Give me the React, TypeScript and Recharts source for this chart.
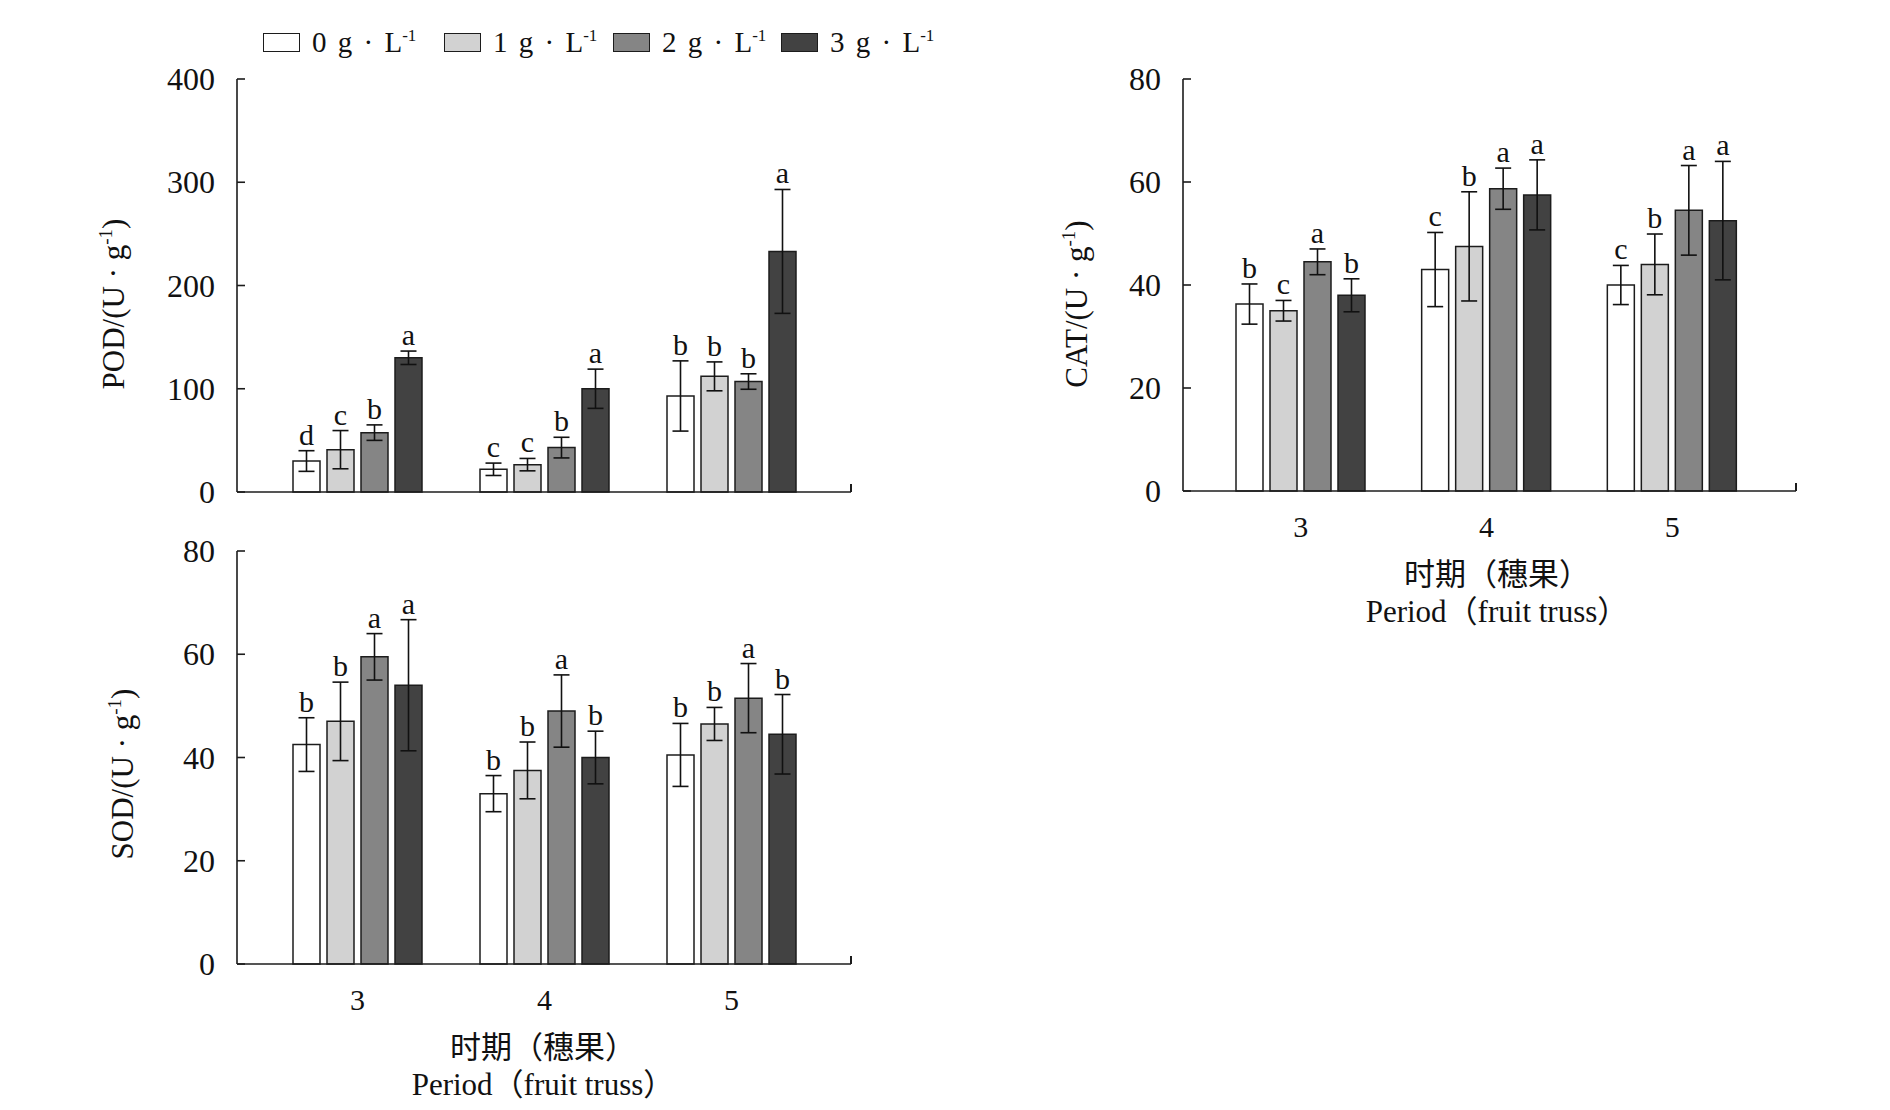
import React from 'react';
import { BarChart, Bar, XAxis, YAxis, ErrorBar, LabelList } from 'recharts';

const SERIF = '"Liberation Serif", "Times New Roman", serif';
const MIXED = '"Liberation Serif", "Noto Sans CJK SC", serif';
const INK = '#1c1c1c';

// fruit truss periods
const periods = ['3', '4', '5'];

// treatment levels (g·L-1) and their fills
const levels = ['0', '1', '2', '3'];
const fills = ['#ffffff', '#d2d2d2', '#858585', '#424242'];

// POD, U·g-1
const pod0 = [30, 22, 93];
const pod1 = [41, 26.5, 112];
const pod2 = [57.5, 43, 107];
const pod3 = [130, 100, 233];
const podErr0 = [10, 6, 34];
const podErr1 = [18.5, 6, 14];
const podErr2 = [7.5, 10, 7.5];
const podErr3 = [6.5, 19, 60];
const podSig0 = ['d', 'c', 'b'];
const podSig1 = ['c', 'c', 'b'];
const podSig2 = ['b', 'b', 'b'];
const podSig3 = ['a', 'a', 'a'];
const podTicks = [0, 100, 200, 300, 400];

// SOD, U·g-1
const sod0 = [42.5, 33, 40.5];
const sod1 = [47, 37.5, 46.5];
const sod2 = [59.5, 49, 51.5];
const sod3 = [54, 40, 44.5];
const sodErr0 = [5.2, 3.5, 6.1];
const sodErr1 = [7.6, 5.5, 3.2];
const sodErr2 = [4.5, 7, 6.7];
const sodErr3 = [12.7, 5.1, 7.7];
const sodSig0 = ['b', 'b', 'b'];
const sodSig1 = ['b', 'b', 'b'];
const sodSig2 = ['a', 'a', 'a'];
const sodSig3 = ['a', 'b', 'b'];
const sodTicks = [0, 20, 40, 60, 80];

// CAT, U·g-1
const cat0 = [36.3, 43, 40];
const cat1 = [35, 47.5, 44];
const cat2 = [44.5, 58.7, 54.5];
const cat3 = [38, 57.5, 52.5];
const catErr0 = [3.9, 7.2, 3.8];
const catErr1 = [2, 10.6, 5.9];
const catErr2 = [2.5, 4, 8.7];
const catErr3 = [3.2, 6.8, 11.5];
const catSig0 = ['b', 'c', 'c'];
const catSig1 = ['c', 'b', 'b'];
const catSig2 = ['a', 'a', 'a'];
const catSig3 = ['b', 'a', 'a'];
const catTicks = [0, 20, 40, 60, 80];

type Enzyme = { vals: number[][]; errs: number[][]; sigs: string[][] };

const POD: Enzyme = {
  vals: [pod0, pod1, pod2, pod3],
  errs: [podErr0, podErr1, podErr2, podErr3],
  sigs: [podSig0, podSig1, podSig2, podSig3],
};
const SOD: Enzyme = {
  vals: [sod0, sod1, sod2, sod3],
  errs: [sodErr0, sodErr1, sodErr2, sodErr3],
  sigs: [sodSig0, sodSig1, sodSig2, sodSig3],
};
const CAT: Enzyme = {
  vals: [cat0, cat1, cat2, cat3],
  errs: [catErr0, catErr1, catErr2, catErr3],
  sigs: [catSig0, catSig1, catSig2, catSig3],
};

const toRows = (e: Enzyme) =>
  periods.map((p, i) => {
    const row: Record<string, string | number> = { period: p };
    levels.forEach((_, s) => {
      row[`v${s}`] = e.vals[s][i];
      row[`e${s}`] = e.errs[s][i];
    });
    return row;
  });

// letter sits just above the error bar cap
const sigLabel = (vals: number[], errs: number[], sigs: string[]) => (props: any) => {
  const vb = props.viewBox && props.viewBox.width !== undefined ? props.viewBox : props;
  const idx = props.index;
  if (idx === undefined || vals[idx] === undefined) return null;
  const x = Number(vb.x);
  const y = Number(vb.y);
  const w = Number(vb.width);
  const h = Math.abs(Number(vb.height));
  const top = Math.min(y, y + Number(vb.height)) - (errs[idx] * h) / vals[idx];
  return (
    <text x={x + w / 2} y={top - 6} textAnchor="middle" fontSize={30} fontFamily={SERIF} fill="#111">
      {sigs[idx]}
    </text>
  );
};

const YTick = (props: any) => {
  const { x, y, payload } = props;
  return (
    <g>
      <line x1={x} x2={x + 8} y1={y} y2={y} stroke={INK} strokeWidth={1.6} />
      <text x={x - 22} y={y} dy="0.35em" textAnchor="end" fontSize={32} fontFamily={SERIF} fill="#111">
        {payload.value}
      </text>
    </g>
  );
};

type PanelProps = {
  enzyme: Enzyme;
  yMax: number;
  ticks: number[];
  width: number;
  height: number;
  margin: { top: number; right: number; bottom: number; left: number };
  showX: boolean;
  pad: { left: number; right: number };
};

const Panel = ({ enzyme, yMax, ticks, width, height, margin, showX, pad }: PanelProps) => (
  <BarChart width={width} height={height} data={toRows(enzyme)} margin={margin} barGap={7}>
    <XAxis
      dataKey="period"
      type="category"
      padding={pad}
      axisLine={{ stroke: INK, strokeWidth: 1.6 }}
      tickLine={false}
      tickSize={0}
      tickMargin={25}
      interval={0}
      height={showX ? 40 : 1}
      tick={showX ? { fontSize: 30, fontFamily: SERIF, fill: '#111' } : false}
    />
    <YAxis
      type="number"
      domain={[0, yMax]}
      ticks={ticks}
      interval={0}
      width={60}
      tickSize={0}
      tickMargin={0}
      tickLine={false}
      axisLine={{ stroke: INK, strokeWidth: 1.6 }}
      tick={(p: any) => <YTick {...p} />}
    />
    {levels.map((lv, s) => (
      <Bar
        key={lv}
        dataKey={`v${s}`}
        name={`${lv} g·L-1`}
        fill={fills[s]}
        stroke={INK}
        strokeWidth={1.5}
        barSize={27}
        isAnimationActive={false}
      >
        <ErrorBar dataKey={`e${s}`} width={8} stroke="#111" strokeWidth={1.6} isAnimationActive={false} />
        <LabelList dataKey={`v${s}`} content={sigLabel(enzyme.vals[s], enzyme.errs[s], enzyme.sigs[s])} />
      </Bar>
    ))}
  </BarChart>
);

const YTitle = ({ name, cx, cy }: { name: string; cx: number; cy: number }) => (
  <div
    style={{
      position: 'absolute',
      left: cx,
      top: cy,
      transform: 'translate(-50%, -50%) rotate(-90deg)',
      whiteSpace: 'nowrap',
      fontFamily: SERIF,
      fontSize: 31,
      lineHeight: 1,
      color: '#111',
    }}
  >
    {name}/(U · g<sup style={{ fontSize: 19, lineHeight: 0 }}>-1</sup>)
  </div>
);

const XTitle = ({ cx, axisY }: { cx: number; axisY: number }) => (
  <>
    <div
      style={{
        position: 'absolute',
        left: cx,
        top: axisY + 80,
        transform: 'translate(-50%, -50%)',
        whiteSpace: 'nowrap',
        fontFamily: '"Noto Sans CJK SC", sans-serif',
        fontSize: 31,
        lineHeight: 1,
        color: '#111',
      }}
    >
      时期（穗果）
    </div>
    <div
      style={{
        position: 'absolute',
        left: cx,
        top: axisY + 120,
        transform: 'translate(-50%, -50%)',
        whiteSpace: 'nowrap',
        fontFamily: MIXED,
        fontSize: 31,
        lineHeight: 1,
        color: '#111',
      }}
    >
      Period（fruit truss）
    </div>
  </>
);

const EndTick = ({ x, y }: { x: number; y: number }) => (
  <div style={{ position: 'absolute', left: x - 0.8, top: y - 8, width: 1.6, height: 8, background: INK }} />
);

const legendLeft = [263, 444, 613, 781];

export default function App() {
  return (
    <div
      style={{
        position: 'absolute',
        left: 0,
        top: 0,
        width: 1890,
        height: 1110,
        background: '#fff',
        overflow: 'hidden',
      }}
    >
      {/* legend */}
      {levels.map((lv, s) => (
        <div
          key={lv}
          style={{
            position: 'absolute',
            left: legendLeft[s],
            top: 25,
            height: 34,
            display: 'flex',
            alignItems: 'center',
            whiteSpace: 'nowrap',
          }}
        >
          <div
            style={{
              width: 35,
              height: 17,
              background: fills[s],
              border: `1.5px solid ${INK}`,
              marginRight: 12,
            }}
          />
          <span style={{ fontFamily: SERIF, fontSize: 29, lineHeight: '34px', wordSpacing: 4, color: '#111' }}>
            {lv} g · L<sup style={{ fontSize: 17, lineHeight: 0 }}>-1</sup>
          </span>
        </div>
      ))}

      {/* POD */}
      <div style={{ position: 'absolute', left: 0, top: 0 }}>
        <Panel
          enzyme={POD}
          yMax={400}
          ticks={podTicks}
          width={900}
          height={520}
          margin={{ top: 79, right: 49, bottom: 27, left: 177 }}
          showX={false}
          pad={{ left: 27, right: 26 }}
        />
      </div>
      <EndTick x={851} y={492} />
      <YTitle name="POD" cx={113} cy={304} />

      {/* SOD */}
      <div style={{ position: 'absolute', left: 0, top: 530 }}>
        <Panel
          enzyme={SOD}
          yMax={80}
          ticks={sodTicks}
          width={900}
          height={580}
          margin={{ top: 21, right: 49, bottom: 106, left: 177 }}
          showX
          pad={{ left: 27, right: 26 }}
        />
      </div>
      <EndTick x={851} y={964} />
      <YTitle name="SOD" cx={122} cy={774} />
      <XTitle cx={543} axisY={964} />

      {/* CAT */}
      <div style={{ position: 'absolute', left: 1100, top: 0 }}>
        <Panel
          enzyme={CAT}
          yMax={80}
          ticks={catTicks}
          width={780}
          height={560}
          margin={{ top: 79, right: 84, bottom: 29, left: 23 }}
          showX
          pad={{ left: 25, right: 31 }}
        />
      </div>
      <EndTick x={1796} y={491} />
      <YTitle name="CAT" cx={1076} cy={304} />
      <XTitle cx={1497} axisY={491} />
    </div>
  );
}
